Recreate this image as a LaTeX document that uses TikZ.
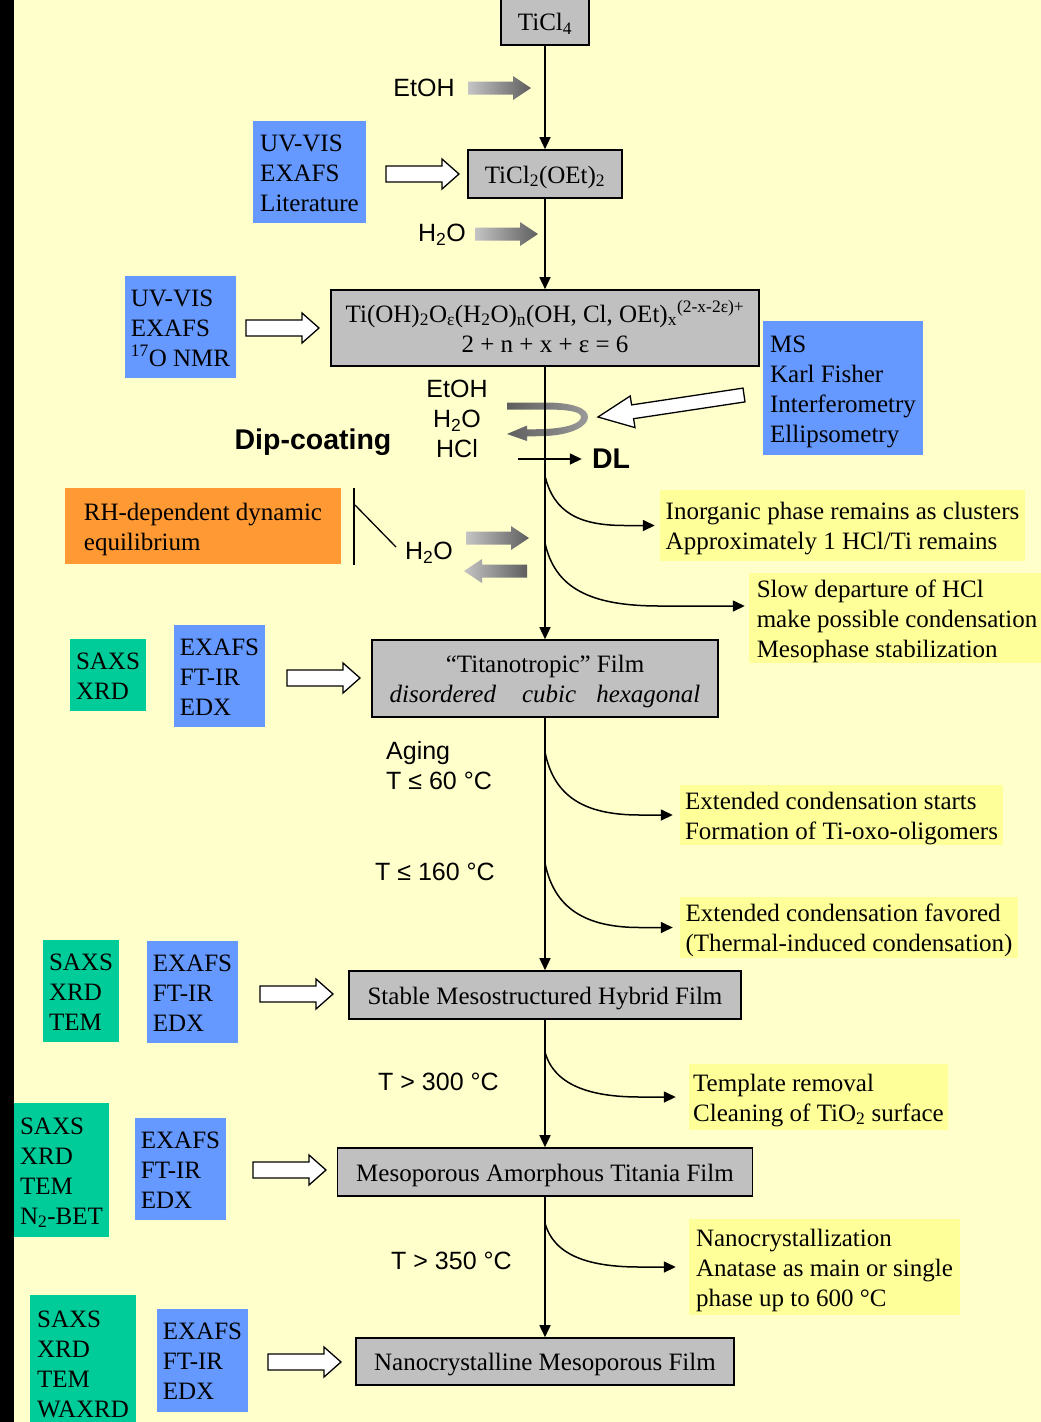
\documentclass[tikz,border=0pt]{standalone}
\usepackage{fontspec}
\setmainfont{Liberation Serif}
\setsansfont{Liberation Sans}
\usetikzlibrary{arrows.meta,calc}
\definecolor{bgy}{HTML}{FFFFCC}
\definecolor{bluebox}{HTML}{6699FF}
\definecolor{greenbox}{HTML}{00CC99}
\definecolor{orangebox}{HTML}{FF9933}
\definecolor{yelbox}{HTML}{FFFF99}
\definecolor{graybox}{HTML}{C0C0C0}
\definecolor{lightg}{HTML}{C4C4C4}
\definecolor{darkg}{HTML}{5E5E5E}
\definecolor{swirll}{HTML}{9A9A9A}
\newcommand{\rowtxt}[1]{\mbox{\rule[-6pt]{0pt}{30pt}#1}}
\begin{document}
\begin{tikzpicture}[x=1pt,y=-1pt,
  tbox/.style={font=\fontsize{25}{30}\selectfont, align=left, inner sep=0pt},
  bx/.style args={#1/#2/#3}{fill=#1, minimum width=#2pt, minimum height=#3pt},
  gbox/.style={draw, line width=1.6pt, fill=graybox, font=\fontsize{25}{30}\selectfont, align=center, inner sep=0pt},
  sans/.style={font=\sffamily\fontsize{25}{30}\selectfont, inner sep=0pt},
  sansbold/.style={font=\sffamily\bfseries\fontsize{28.5}{34}\selectfont, inner sep=0pt},
  conn/.style={line width=1.5pt, -{Triangle[length=12pt,width=11pt]}},
  hollow/.pic={\draw[line width=1.3pt, fill=white] (0,-8) -- (56,-8) -- (56,-15) -- (73,0) -- (56,15) -- (56,8) -- (0,8) -- cycle;},
  gshade/.style={left color=lightg, right color=darkg, draw=none}
]
\useasboundingbox (0,0) rectangle (1041,1422);
\fill[bgy] (0,0) rectangle (1041,1422);
\fill[black] (0,0) rectangle (13.5,1422);

% main gray boxes
\node[gbox, minimum width=88pt, minimum height=47pt] (g1) at (545,21.5) {\rowtxt{TiCl\textsubscript{4}}};
\node[gbox, minimum width=154pt, minimum height=48pt] (g2) at (545,174) {\rowtxt{TiCl\textsubscript{2}(OEt)\textsubscript{2}}};
\node[gbox, minimum width=428pt, minimum height=76pt] (g3) at (545,328) {\rowtxt{Ti(OH)\textsubscript{2}O\textsubscript{ε}(H\textsubscript{2}O)\textsubscript{n}(OH, Cl, OEt)\textsubscript{x}\textsuperscript{(2-x-2ε)+}}\\\rowtxt{2 + n + x + ε = 6}};
\node[gbox, minimum width=346pt, minimum height=77pt] (g4) at (545,678.5) {\rowtxt{“Titanotropic” Film}\\\rowtxt{\textit{disordered}\hspace{26pt}\textit{cubic}\hspace{20pt}\textit{hexagonal}}};
\node[gbox, minimum width=392pt, minimum height=48pt] (g5) at (545,995) {\rowtxt{Stable Mesostructured Hybrid Film}};
\node[gbox, minimum width=415pt, minimum height=48pt] (g6) at (545,1172) {\rowtxt{Mesoporous Amorphous Titania Film}};
\node[gbox, minimum width=378pt, minimum height=47pt] (g7) at (545,1361.5) {\rowtxt{Nanocrystalline Mesoporous Film}};

% technique boxes
\node[tbox, bx=bluebox/113/102] (b1) at (309.5,172) {\rowtxt{UV-VIS}\\\rowtxt{EXAFS}\\\rowtxt{Literature}};
\node[tbox, bx=bluebox/111/102] (b2) at (180.5,327) {\rowtxt{UV-VIS}\\\rowtxt{EXAFS}\\\rowtxt{\textsuperscript{17}O NMR}};
\node[tbox, bx=bluebox/160/134] (b3) at (843,388) {\rowtxt{MS}\\\rowtxt{Karl Fisher}\\\rowtxt{Interferometry}\\\rowtxt{Ellipsometry}};
\node[tbox, bx=bluebox/91/102] (b4) at (219.5,676) {\rowtxt{EXAFS}\\\rowtxt{FT-IR}\\\rowtxt{EDX}};
\node[tbox, bx=greenbox/76/72] (gr4) at (108,675) {\rowtxt{SAXS}\\\rowtxt{XRD}};
\node[tbox, bx=bluebox/91/102] (b5) at (192.5,992) {\rowtxt{EXAFS}\\\rowtxt{FT-IR}\\\rowtxt{EDX}};
\node[tbox, bx=greenbox/76/102] (gr5) at (81,991) {\rowtxt{SAXS}\\\rowtxt{XRD}\\\rowtxt{TEM}};
\node[tbox, bx=bluebox/91/102] (b6) at (180.5,1169) {\rowtxt{EXAFS}\\\rowtxt{FT-IR}\\\rowtxt{EDX}};
\node[tbox, bx=greenbox/95/134] (gr6) at (61.5,1170) {\rowtxt{SAXS}\\\rowtxt{XRD}\\\rowtxt{TEM}\\\rowtxt{N\textsubscript{2}-BET}};
\node[tbox, bx=bluebox/91/103] (b7) at (202.5,1360.5) {\rowtxt{EXAFS}\\\rowtxt{FT-IR}\\\rowtxt{EDX}};
\node[tbox, bx=greenbox/106/136] (gr7) at (83,1363) {\rowtxt{SAXS}\\\rowtxt{XRD}\\\rowtxt{TEM}\\\rowtxt{WAXRD}};
\node[tbox, bx=orangebox/276/76] (o1) at (203,526) {\rowtxt{RH-dependent dynamic}\\\rowtxt{equilibrium}};

% yellow comment boxes
\node[tbox, bx=yelbox/365/71] (y1) at (842.5,525.5) {\rowtxt{Inorganic phase remains as clusters}\\\rowtxt{Approximately 1 HCl/Ti remains}};
\node[tbox, bx=yelbox/296/90] (y2) at (897,618) {\rowtxt{Slow departure of HCl}\\\rowtxt{make possible condensation}\\\rowtxt{Mesophase stabilization}};
\node[tbox, bx=yelbox/323/60] (y3) at (841.5,815) {\rowtxt{Extended condensation starts}\\\rowtxt{Formation of Ti-oxo-oligomers}};
\node[tbox, bx=yelbox/338/61] (y4) at (849,927.5) {\rowtxt{Extended condensation favored}\\\rowtxt{(Thermal-induced condensation)}};
\node[tbox, bx=yelbox/259/66] (y5) at (818.5,1097) {\rowtxt{Template removal}\\\rowtxt{Cleaning of TiO\textsubscript{2} surface}};
\node[tbox, bx=yelbox/271/96] (y6) at (824.5,1267) {\rowtxt{Nanocrystallization}\\\rowtxt{Anatase as main or single}\\\rowtxt{phase up to 600 °C}};

% sans labels
\node[sans] (etoh1) at (424,88) {EtOH};
\node[sans] (h2o1) at (442,235) {H\textsubscript{2}O};
\node[sans, align=center] (dipchem) at (457,418.5) {\rowtxt{EtOH}\\\rowtxt{H\textsubscript{2}O}\\\rowtxt{HCl}};
\node[sansbold] (dip) at (313,442) {Dip-coating};
\node[sansbold] (dl) at (611,459) {DL};
\node[sans] (h2o2) at (429,553) {H\textsubscript{2}O};
\node[sans, align=left, anchor=west] (aging) at (386,765.5) {\rowtxt{Aging}\\\rowtxt{T ≤ 60 °C}};
\node[sans, anchor=west] (t160) at (375,872) {T ≤ 160 °C};
\node[sans, anchor=west] (t300) at (378,1082) {T > 300 °C};
\node[sans, anchor=west] (t350) at (391,1261) {T > 350 °C};

% gray gradient reagent arrows
\shade[gshade] (468,81.5) -- ++(45,0) -- ++(0,-5.5) -- ++(18,12) -- ++(-18,12) -- ++(0,-5.5) -- ++(-45,0) -- cycle;
\shade[gshade] (475,227.5) -- ++(45,0) -- ++(0,-5.5) -- ++(18,12) -- ++(-18,12) -- ++(0,-5.5) -- ++(-45,0) -- cycle;
\shade[gshade] (466,531.5) -- ++(45,0) -- ++(0,-5.5) -- ++(18,12) -- ++(-18,12) -- ++(0,-5.5) -- ++(-45,0) -- cycle;
\shade[gshade] (527,564.5) -- ++(-45,0) -- ++(0,-5.5) -- ++(-18,12) -- ++(18,12) -- ++(0,-5.5) -- ++(45,0) -- cycle;

% dip-coating swirl
\shade[left color=darkg, right color=swirll, draw=none]
  (507,402.5) -- (545,402.5) .. controls (575,402.5) and (588,409) .. (588,417)
  .. controls (588,426) and (572,435) .. (545,436) -- (527,436.5) -- (527,441) -- (507,434)
  -- (527,425.5) -- (527,429.5) -- (545,429) .. controls (568,428) and (581,423) .. (581,417)
  .. controls (581,412) and (570,409.5) .. (545,409.5) -- (507,409.5) -- cycle;

% hollow technique arrows
\pic at (386,174) {hollow};
\pic at (246,328) {hollow};
\pic at (287,678) {hollow};
\pic at (260,994) {hollow};
\pic at (253,1170) {hollow};
\pic at (268,1362) {hollow};
\draw[line width=1.3pt, fill=white] (743,388.1) -- (631.6,404.9) -- (630.2,396.0) -- (598,417) -- (635.0,427.6) -- (633.6,418.7) -- (745,401.9) -- cycle;

% RH bracket
\draw[line width=1.3pt] (354,488) -- (354,565);
\draw[line width=1.3pt] (355,505) -- (396,547);

% main flow
\draw[conn] (g1) -- (g2);
\draw[conn] (g2) -- (g3);
\draw[conn] (g3) -- (g4);
\draw[conn] (g4) -- (g5);
\draw[conn] (g5) -- (g6);
\draw[conn] (g6) -- (g7);

% DL arrow
\coordinate (dl0) at (518,459);
\draw[conn] (dl0) -- ($(dl.west)+(-10,0)$);

% side curved arrows
\coordinate (k1) at (545,476);
\coordinate (t1) at ($(y1.west)+(-5,0)$);
\draw[conn] (k1) .. controls +(9,37) and +(-45,0) .. ($(t1)+(-30,0)$) -- (t1);
\coordinate (k2) at (545,543);
\coordinate (t2) at ($(y2.west)+(-4,-12)$);
\draw[conn] (k2) .. controls +(10,45) and +(-70,0) .. ($(t2)+(-85,0)$) -- (t2);
\coordinate (k3) at (545,752);
\coordinate (t3) at ($(y3.west)+(-7,0)$);
\draw[conn] (k3) .. controls +(9,45) and +(-55,0) .. ($(t3)+(-33,0)$) -- (t3);
\coordinate (k4) at (545,863);
\coordinate (t4) at ($(y4.west)+(-7,0)$);
\draw[conn] (k4) .. controls +(9,45) and +(-55,0) .. ($(t4)+(-33,0)$) -- (t4);
\coordinate (k5) at (545,1052);
\coordinate (t5) at ($(y5.west)+(-13,0)$);
\draw[conn] (k5) .. controls +(9,33) and +(-50,0) .. ($(t5)+(-36,0)$) -- (t5);
\coordinate (k6) at (545,1223);
\coordinate (t6) at ($(y6.west)+(-13,0)$);
\draw[conn] (k6) .. controls +(9,33) and +(-50,0) .. ($(t6)+(-36,0)$) -- (t6);
\end{tikzpicture}
\end{document}
